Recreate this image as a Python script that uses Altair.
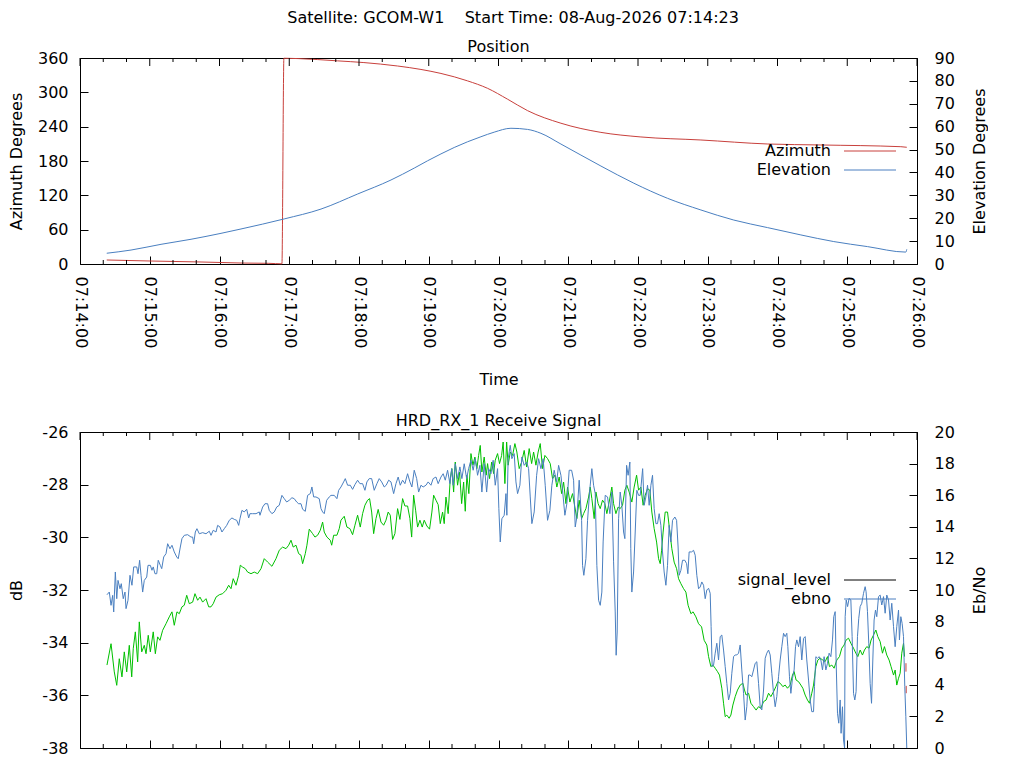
import numpy as np
import pandas as pd
import altair as alt

FONT = "DejaVu Sans"

# Position pass, seconds after 07:14:00
az_sec = [23.0, 61.1, 104.1, 138.5, 162.5, 173.7, 175.4, 187.5, 221.6, 244.2, 273.2, 293.3,
          310.5, 333.4, 350.6, 367.8, 385.0, 413.7, 448.1, 482.5, 534.1, 591.7, 637.3, 706.1, 711.2]
azimuth = [7.0, 5.2, 3.5, 1.7, 1.2, 0.3, 359.6, 359.0, 355, 352, 346, 340,
           333, 320, 307, 288, 268, 246, 230, 222, 216.7, 209.7, 208, 205, 204]

el_sec = [23.0, 43.9, 69.7, 95.5, 121.3, 138.5, 175.7, 207.3, 238.9, 267.5, 287.5, 299.0, 310.5,
          321.9, 333.4, 344.9, 356.3, 370.7, 385.0, 396.5, 413.7, 448.1, 476.4, 505.4, 534.1,
          562.4, 591.4, 620.1, 648.4, 677.4, 710.4, 711.2]
elevation = [4.7, 6.1, 8.6, 10.8, 13.4, 15.3, 19.7, 24.0, 30.6, 36.7, 41.9, 45.1, 48.1,
             50.9, 53.4, 55.6, 57.6, 59.3, 58.8, 57.1, 52.4, 42.8, 35.3, 28.7, 23.6,
             19.2, 15.9, 12.7, 9.8, 7.6, 5.2, 6.4]

# Receive signal
sig_sec = [23.2, 26.7, 29.5, 31.6, 33.8, 36.1, 38.1, 40.2, 42.4, 44.5, 45.8, 47.6, 49.6, 51.0, 53.1,
           55.3, 56.8, 58.7, 60.5, 63.0, 64.8, 66.8, 68.8, 71.1, 74.0, 76.8, 79.1, 81.1, 83.4, 85.4,
           87.7, 89.7, 91.8, 94.0, 96.9, 98.9, 101.2, 103.2, 105.5, 108.4, 110.7, 112.7, 114.6,
           117.0, 119.8, 122.7, 125.6, 127.9, 129.9, 131.8, 134.2, 136.5, 137.9, 139.9, 142.2,
           144.2, 147.1, 149.9, 152.8, 155.7, 158.5, 161.4, 165.1, 168.6, 171.4, 174.3, 177.2,
           179.5, 181.5, 183.4, 185.8, 188.1, 190.1, 191.5, 193.8, 195.2, 197.2, 200.1, 202.1,
           204.4, 206.7, 208.7, 210.1, 212.4, 215.3, 216.5, 218.2, 221.0, 223.0, 224.5, 227.3,
           229.6, 232.2, 234.5, 236.5, 238.8, 241.1, 243.1, 245.1, 247.4, 249.1, 250.9, 252.6,
           254.6, 256.5, 258.9, 261.2, 263.2, 265.1, 266.9, 268.9, 270.9, 273.2, 275.2, 277.5,
           279.5, 281.8, 283.8, 285.3, 287.0, 288.7, 290.4, 292.4, 294.4, 296.1, 298.4, 300.7,
           302.7, 304.2, 306.2, 308.1, 309.9, 311.9, 313.3, 314.8, 316.7, 318.5, 319.9, 321.4,
           322.8, 324.8, 326.5, 328.3, 330.0, 331.4, 332.8, 334.5, 336.3, 338.0, 339.7, 341.4,
           342.9, 344.3, 345.7, 347.7, 349.4, 350.6, 352.3, 354.1, 355.8, 357.2, 359.2, 360.9,
           362.7, 364.0, 365.5, 367.0, 368.3, 370.1, 372.1, 374.1, 375.8, 377.8, 379.9, 382.1,
           384.2, 386.4, 388.5, 390.2, 392.2, 394.1, 395.9, 397.9, 399.9, 402.2, 404.5, 406.5,
           408.5, 410.2, 412.2, 414.3, 416.0, 418.0, 419.4, 421.4, 423.7, 425.7, 427.4, 429.4,
           431.5, 433.2, 435.2, 437.5, 438.9, 440.3, 442.3, 443.8, 445.7, 447.5, 449.5, 451.5,
           453.2, 455.2, 457.5, 459.0, 461.0, 462.9, 464.7, 466.7, 468.7, 470.4, 472.4, 474.7,
           476.7, 478.8, 480.5, 482.5, 484.4, 486.2, 488.2, 490.2, 491.9, 493.9, 496.0, 497.7,
           499.1, 500.3, 501.6, 503.4, 505.4, 507.4, 509.1, 511.1, 513.2, 514.9, 516.9, 519.2,
           521.2, 523.1, 525.5, 527.4, 529.8, 532.1, 534.7, 536.9, 539.2, 540.7, 542.7, 544.4,
           546.4, 548.4, 550.1, 552.1, 553.6, 555.0, 556.4, 558.4, 559.9, 561.6, 563.6, 565.6,
           567.9, 570.2, 571.6, 573.0, 575.1, 577.1, 579.4, 581.6, 583.7, 585.7, 588.0, 590.2,
           592.3, 594.3, 596.6, 598.6, 600.3, 602.3, 604.6, 606.6, 608.6, 610.9, 612.9, 614.3,
           616.0, 618.1, 620.1, 621.8, 623.8, 625.8, 627.5, 629.5, 631.0, 633.0, 634.7, 636.7,
           639.0, 641.0, 643.0, 644.7, 646.7, 648.7, 651.0, 653.3, 655.3, 657.3, 659.0, 661.1,
           663.1, 665.4, 667.4, 669.1, 671.1, 673.1, 674.8, 676.8, 678.8, 680.5, 682.6, 684.6,
           686.3, 688.3, 690.3, 692.0, 694.0, 696.0, 697.7, 699.8, 701.2, 702.6, 704.1, 705.5,
           706.9, 708.4, 709.3]
signal_level = [-34.85, -34.04, -35.11, -35.62, -34.61, -35.30, -34.35, -35.11, -34.10, -35.30, -34.23,
                -33.59, -34.73, -33.21, -34.35, -34.10, -34.42, -33.72, -34.35, -33.59, -34.42, -33.78,
                -33.91, -33.53, -33.28, -33.02, -32.83, -33.34, -32.83, -32.90, -32.64, -32.58, -32.20,
                -32.52, -32.46, -32.14, -32.39, -32.27, -32.46, -32.33, -32.64, -32.64, -32.52, -32.27,
                -32.18, -32.14, -32.01, -31.82, -31.95, -31.57, -31.82, -31.44, -31.06, -31.13, -31.19,
                -31.32, -31.38, -31.32, -31.38, -31.19, -30.81, -30.94, -31.10, -30.81, -30.49, -30.37,
                -30.43, -30.30, -30.11, -30.37, -30.30, -30.62, -30.68, -31.00, -30.62, -30.30, -29.69,
                -29.86, -29.99, -29.92, -29.73, -29.42, -29.80, -29.99, -30.11, -30.30, -29.92, -29.92,
                -29.67, -29.35, -29.20, -29.61, -29.67, -29.90, -29.54, -29.16, -29.61, -29.10, -28.78,
                -28.59, -28.53, -29.04, -29.86, -29.29, -28.94, -29.42, -29.54, -29.35, -29.04, -29.16,
                -30.08, -29.86, -28.91, -29.32, -28.53, -28.81, -28.81, -29.29, -29.99, -28.40, -28.97,
                -29.61, -29.35, -29.61, -29.35, -29.57, -29.69, -29.04, -28.40, -28.59, -28.76, -29.48,
                -29.04, -29.48, -28.47, -29.10, -27.77, -27.39, -28.28, -27.14, -28.02, -27.52, -28.72,
                -27.90, -29.01, -27.64, -28.34, -26.82, -27.26, -26.95, -27.39, -26.89, -26.51, -27.52,
                -26.95, -27.64, -27.20, -27.77, -27.14, -27.58, -27.07, -26.82, -27.20, -26.89, -26.38,
                -27.96, -26.38, -27.26, -26.76, -26.89, -26.44, -26.76, -27.39, -27.14, -26.70, -27.33,
                -26.63, -27.20, -26.76, -27.26, -26.76, -26.44, -27.39, -26.89, -27.01, -27.20, -27.77,
                -27.64, -28.09, -27.71, -28.34, -27.90, -28.72, -28.09, -28.66, -28.34, -28.85, -29.29,
                -28.59, -29.29, -29.10, -28.91, -28.47, -28.09, -28.53, -29.29, -28.28, -28.72, -28.91,
                -28.59, -28.72, -29.10, -28.66, -28.09, -28.72, -29.10, -28.85, -28.91, -28.78, -28.21,
                -28.02, -28.28, -28.66, -28.09, -27.64, -28.21, -28.09, -28.78, -28.40, -28.15, -28.21,
                -29.04, -29.67, -30.18, -30.81, -31.00, -30.49, -29.80, -29.04, -29.04, -29.80, -30.43,
                -30.94, -31.19, -31.57, -31.76, -31.95, -32.08, -32.58, -32.90, -32.83, -33.02, -33.28,
                -33.40, -33.91, -34.09, -34.53, -34.91, -34.85, -34.97, -35.10, -35.23, -35.73, -36.30,
                -36.81, -36.75, -36.87, -36.75, -36.37, -36.05, -35.80, -35.61, -35.54, -35.80, -35.99,
                -35.92, -36.30, -36.43, -36.56, -36.43, -36.49, -36.24, -36.18, -35.92, -36.05, -35.86,
                -35.67, -35.48, -35.54, -35.67, -35.61, -35.73, -35.61, -35.23, -35.10, -35.42, -35.48,
                -35.61, -35.73, -35.99, -36.18, -36.30, -35.92, -35.61, -34.91, -34.66, -34.59, -34.66,
                -34.72, -34.53, -34.91, -34.85, -34.97, -34.66, -34.53, -34.21, -34.09, -33.90, -33.83,
                -34.02, -34.21, -34.40, -34.53, -34.28, -34.47, -34.28, -34.15, -34.21, -33.90, -33.71,
                -33.52, -33.77, -33.96, -34.40, -34.15, -34.47, -34.66, -34.91, -35.23, -35.04, -35.61,
                -35.35, -35.16, -34.40, -34.02, -34.53]

ebno_sec = [23.2, 25.2, 26.7, 28.1, 29.0, 30.4, 31.6, 32.7, 34.4, 35.5, 37.2, 38.7, 39.6, 41.3, 43.0,
            44.7, 46.2, 48.8, 49.9, 51.3, 52.5, 53.9, 55.3, 57.4, 58.5, 60.5, 61.9, 63.0, 64.5, 66.0,
            67.3, 69.1, 70.3, 72.0, 74.0, 75.4, 77.4, 79.1, 81.1, 83.2, 84.5, 86.3, 87.7, 89.7, 92.6,
            95.5, 96.9, 97.8, 99.2, 100.6, 102.6, 105.5, 108.4, 111.2, 112.7, 114.6, 117.0, 118.4,
            120.4, 122.1, 124.1, 126.2, 128.4, 130.7, 132.7, 134.8, 136.5, 137.6, 139.3, 141.3,
            143.4, 145.1, 146.2, 148.5, 151.4, 154.2, 154.8, 157.1, 159.1, 161.4, 162.8, 165.1,
            167.1, 169.2, 171.4, 173.7, 175.7, 177.8, 180.0, 182.3, 184.3, 186.4, 188.1, 190.1,
            191.5, 193.8, 195.8, 198.1, 199.5, 201.0, 203.0, 205.8, 207.3, 208.7, 210.1, 212.2,
            214.4, 215.9, 218.7, 221.0, 222.5, 224.5, 226.8, 228.2, 230.2, 232.5, 234.5, 236.5,
            238.8, 240.8, 243.1, 245.1, 246.8, 248.8, 250.9, 253.1, 255.4, 257.4, 259.5, 261.7,
            263.4, 265.5, 267.5, 269.8, 271.8, 273.7, 275.5, 277.5, 279.5, 281.8, 283.8, 285.5,
            287.5, 289.6, 291.3, 293.3, 295.2, 297.6, 299.5, 301.9, 303.8, 306.2, 308.1, 310.5,
            312.4, 314.2, 316.2, 318.2, 319.7, 321.0, 322.8, 324.8, 326.8, 328.5, 330.5, 332.6,
            334.3, 336.3, 338.2, 340.0, 342.0, 344.0, 345.7, 347.7, 349.8, 351.5, 353.5, 355.4,
            357.2, 359.2, 360.3, 361.5, 362.9, 364.9, 366.4, 367.2, 368.3, 370.1, 371.5, 373.5,
            375.0, 376.4, 378.4, 380.1, 382.1, 384.2, 385.9, 387.3, 388.7, 390.7, 392.8, 394.5,
            396.5, 398.4, 400.2, 402.2, 404.2, 405.9, 407.9, 410.0, 411.7, 413.7, 415.1, 417.1,
            418.8, 420.8, 422.9, 424.6, 426.0, 427.4, 429.4, 431.5, 432.3, 433.4, 435.2, 436.6,
            438.6, 440.3, 441.8, 443.2, 444.6, 446.1, 447.5, 448.9, 450.0, 451.8, 453.8, 455.8,
            457.5, 459.0, 460.4, 461.2, 462.1, 463.3, 464.7, 466.1, 467.6, 468.7, 470.2, 471.5,
            473.0, 473.8, 474.7, 476.2, 477.6, 479.0, 480.5, 481.9, 484.0, 485.3, 486.8, 488.2,
            489.6, 491.1, 492.5, 493.9, 495.4, 496.8, 498.2, 499.7, 501.1, 502.5, 504.0, 505.4,
            506.8, 508.3, 509.7, 511.7, 513.2, 514.5, 515.4, 516.9, 518.3, 520.3, 521.8, 522.9,
            524.0, 526.1, 527.8, 529.2, 530.6, 532.1, 533.5, 534.9, 536.4, 537.8, 539.2, 540.7,
            542.1, 542.9, 543.8, 545.0, 546.4, 547.8, 549.3, 550.7, 552.1, 553.6, 555.0, 556.4,
            557.9, 559.3, 560.7, 562.2, 563.6, 565.0, 566.5, 567.9, 569.3, 570.8, 572.2, 573.6,
            575.1, 576.5, 577.9, 579.4, 580.8, 582.2, 583.7, 585.1, 586.5, 588.0, 589.4, 590.8,
            592.3, 593.7, 595.1, 596.6, 598.0, 599.4, 600.9, 602.3, 603.7, 605.2, 606.6, 608.0,
            608.9, 610.3, 611.5, 612.9, 614.3, 615.5, 616.6, 618.1, 619.5, 620.9, 622.4, 623.8,
            625.2, 626.7, 628.1, 629.5, 631.0, 631.8, 633.0, 634.4, 635.9, 637.3, 638.7, 640.1,
            641.6, 643.0, 644.4, 645.9, 647.3, 648.4, 649.6, 650.4, 651.6, 652.7, 653.9, 654.7,
            655.9, 656.8, 657.7, 658.2, 659.1, 660.3, 661.6, 663.1, 664.2, 665.4, 666.5, 667.6,
            668.8, 669.9, 671.1, 672.5, 674.0, 675.4, 676.2, 677.4, 678.5, 679.7, 680.9, 682.0,
            683.1, 684.3, 685.4, 686.9, 688.3, 689.7, 691.2, 692.6, 694.0, 695.5, 696.9, 698.3,
            699.8, 701.2, 702.6, 704.1, 704.9, 706.1, 707.2, 708.4, 709.5, 710.4, 711.2]
ebno = [9.70, 9.87, 9.03, 9.66, 8.61, 11.14, 9.45, 10.61, 10.08, 10.40, 9.45, 9.87, 8.82, 9.35, 10.93,
        10.30, 11.46, 11.46, 11.03, 11.88, 10.93, 9.87, 10.61, 10.82, 11.56, 11.56, 11.25, 11.46, 11.03,
        11.03, 11.88, 11.56, 11.35, 12.09, 12.30, 12.93, 12.61, 12.83, 12.41, 12.09, 11.98, 12.72, 13.25,
        13.46, 13.50, 13.35, 13.35, 12.93, 13.67, 13.88, 13.56, 13.63, 13.56, 13.72, 13.46, 13.78, 13.67,
        14.09, 13.99, 13.67, 13.88, 14.09, 14.41, 14.56, 14.47, 14.41, 14.09, 14.51, 15.04, 14.94, 15.11,
        14.56, 14.83, 14.83, 14.83, 14.94, 14.73, 15.25, 15.46, 15.46, 15.04, 14.83, 14.94, 15.25, 15.36,
        15.99, 15.78, 15.57, 15.68, 15.84, 15.78, 15.57, 15.46, 15.46, 15.11, 14.98, 15.99, 16.10, 16.52,
        15.89, 15.89, 15.78, 15.15, 14.94, 14.83, 15.68, 15.89, 15.99, 15.99, 15.78, 16.31, 16.52, 16.84,
        17.05, 16.63, 16.63, 16.37, 16.67, 16.95, 16.73, 16.73, 16.31, 16.84, 17.05, 17.05, 16.31, 16.73,
        17.05, 16.84, 16.52, 16.63, 16.95, 16.84, 16.10, 16.73, 17.15, 16.63, 16.95, 16.73, 17.36, 16.84,
        16.52, 17.58, 17.05, 16.20, 16.63, 16.52, 16.63, 16.84, 16.63, 17.05, 17.15, 16.73, 17.15, 17.36,
        16.95, 17.58, 16.73, 17.68, 16.63, 17.99, 17.05, 17.79, 17.05, 17.99, 17.05, 17.68, 18.21, 17.58,
        18.31, 17.26, 17.89, 16.20, 17.99, 16.20, 17.68, 17.36, 18.21, 16.63, 17.68, 15.15, 13.04, 14.51,
        14.73, 16.10, 14.73, 18.31, 19.16, 18.31, 18.63, 16.84, 16.10, 16.63, 18.42, 17.89, 18.10, 17.68,
        15.89, 14.20, 14.94, 17.26, 18.31, 17.68, 18.31, 16.63, 14.41, 15.04, 16.63, 17.58, 16.84, 17.89,
        17.26, 16.31, 14.73, 15.46, 17.58, 17.58, 16.95, 13.99, 14.62, 16.95, 14.41, 11.56, 10.93, 11.98,
        14.41, 16.41, 17.68, 16.63, 16.10, 11.56, 9.35, 9.03, 9.87, 13.04, 15.99, 15.89, 14.83, 16.20,
        11.78, 8.61, 5.87, 7.34, 14.51, 16.20, 15.36, 13.67, 13.25, 17.89, 17.26, 18.10, 12.61, 9.87,
        11.14, 13.67, 16.31, 15.99, 15.99, 17.68, 15.36, 15.89, 16.63, 15.36, 16.63, 17.26, 15.15, 14.20,
        14.20, 14.83, 14.09, 12.41, 11.14, 10.30, 11.56, 14.09, 13.04, 14.41, 14.62, 14.41, 12.72, 10.93,
        11.25, 11.88, 11.88, 11.67, 11.03, 12.41, 12.41, 12.51, 12.20, 10.93, 10.08, 10.19, 10.51, 10.30,
        9.45, 10.00, 10.11, 9.79, 7.68, 5.15, 5.25, 6.00, 6.63, 5.57, 7.05, 7.15, 6.20, 5.15, 4.09, 3.04,
        3.46, 4.73, 5.78, 5.89, 5.89, 6.00, 6.52, 4.94, 3.46, 1.77, 2.61, 4.62, 4.62, 4.51, 4.94, 5.36,
        5.46, 4.09, 2.61, 2.41, 3.67, 5.68, 6.00, 6.20, 5.89, 4.73, 3.46, 2.61, 3.25, 4.51, 5.57, 6.41,
        7.26, 7.05, 7.26, 6.41, 4.51, 3.46, 4.41, 4.94, 6.41, 6.84, 6.41, 7.05, 5.57, 6.94, 7.05, 5.57,
        4.30, 3.04, 2.30, 2.30, 3.88, 5.78, 5.68, 5.78, 5.57, 4.94, 5.78, 4.94, 5.36, 6.00, 5.78, 6.84,
        8.31, 8.63, 5.57, 2.20, 1.57, 3.04, 0.93, 2.61, 0.51, 0.00, 8.31, 9.37, 8.95, 9.47, 9.37, 7.05,
        3.46, 3.04, 3.57, 7.05, 8.21, 8.95, 9.16, 9.79, 10.21, 9.89, 8.63, 6.63, 4.09, 2.83, 5.57, 8.10,
        8.73, 8.31, 9.58, 9.68, 9.05, 9.58, 8.53, 9.68, 9.37, 8.10, 9.16, 7.68, 6.41, 7.68, 8.73, 6.84,
        8.31, 7.89, 7.05, 3.88, 1.98, 0.00]

# two short red marks at the end of the pass
stub_sec = [710.5, 710.5, 710.7, 710.7]
stub_db = [-34.78, -35.10, -35.64, -35.92]
stub_seg = [1, 1, 2, 2]

pos_names = ["Azimuth", "Elevation"]
sig_names = ["signal_level", "ebno"]
az_ticks = [0, 60, 120, 180, 240, 300, 360]
el_ticks = [0, 10, 20, 30, 40, 50, 60, 70, 80, 90]
db_ticks = [-38, -36, -34, -32, -30, -28, -26]
ebno_ticks = [0, 2, 4, 6, 8, 10, 12, 14, 16, 18, 20]
major_ticks = list(range(0, 721, 60))
minor_ticks = [t for t in range(0, 721, 20) if t % 60]

RED = "#c8403c"
BLUE = "#4a7fc0"
GREEN = "#00c000"
W = 837
H_TOP = 206
H_BOT = 316

sec_scale = alt.Scale(domain=[0, 720], nice=False, zero=False)
label_expr = "timeFormat(datetime(2026, 7, 8, 7, 14, datum.value), '%H:%M:%S')"
major_df = pd.DataFrame({"sec": major_ticks})
minor_df = pd.DataFrame({"sec": minor_ticks})

# the same axis object is used for every x field of a panel, so the layers merge cleanly
top_time_axis = alt.Axis(orient="bottom", values=major_ticks, offset=-8, tickSize=8, domain=False,
                         grid=False, labelAngle=90, labelAlign="left", labelBaseline="middle",
                         labelPadding=12, labelExpr=label_expr, labelOverlap=False,
                         title="Time", titlePadding=24)
bot_time_axis = alt.Axis(orient="bottom", values=major_ticks, offset=-8, tickSize=8, domain=False,
                         grid=False, labels=False, title=None)


def y_axis(orient, values, title, pad):
    if orient == "left":
        return alt.Axis(orient="left", values=values, offset=-8, tickSize=8, domain=False, grid=False,
                        labelPadding=12, labelExpr="'' + datum.value", title=title, titlePadding=pad)
    return alt.Axis(orient="right", values=values, offset=-8, tickSize=8, domain=False, grid=False,
                    labelPadding=17, labelAlign="left", title=title, titlePadding=pad,
                    titleAngle=270, titleBaseline="top")


def tick_marks(height, axis):
    # minor ticks along the bottom, major and minor ticks mirrored along the top
    xs = alt.X("sec:Q", scale=sec_scale, axis=axis)
    return [
        alt.Chart(minor_df).mark_rule(color="black").encode(x=xs, y=alt.value(height - 4), y2=alt.value(height)),
        alt.Chart(major_df).mark_rule(color="black").encode(x=xs, y=alt.value(0), y2=alt.value(8)),
        alt.Chart(minor_df).mark_rule(color="black").encode(x=xs, y=alt.value(0), y2=alt.value(4)),
    ]


def legend_entry(name, color, ypos):
    d = pd.DataFrame({"name": [name]})
    txt = alt.Chart(d).mark_text(align="right", baseline="middle", font=FONT, fontSize=16,
                                 color="black").encode(text="name:N", x=alt.value(751), y=alt.value(ypos))
    rule = alt.Chart(d).mark_rule(color=color, strokeWidth=1).encode(
        x=alt.value(764), x2=alt.value(816), y=alt.value(ypos))
    return [txt, rule]


# ---- Position panel ----
az_df = pd.DataFrame({"sec": az_sec, "val": azimuth})
el_df = pd.DataFrame({"sec": el_sec, "val": elevation})

az_line = alt.Chart(az_df).mark_line(color=RED, strokeWidth=1, interpolate="monotone").encode(
    x=alt.X("sec:Q", scale=sec_scale, axis=top_time_axis),
    y=alt.Y("val:Q", scale=alt.Scale(domain=[0, 360], nice=False),
            axis=y_axis("left", az_ticks, "Azimuth Degrees", 12.5)))
el_line = alt.Chart(el_df).mark_line(color=BLUE, strokeWidth=1, interpolate="monotone").encode(
    x=alt.X("sec:Q", scale=sec_scale, axis=top_time_axis),
    y=alt.Y("val:Q", scale=alt.Scale(domain=[0, 90], nice=False),
            axis=y_axis("right", el_ticks, "Elevation Degrees", 17)))

top_left = alt.layer(az_line, *tick_marks(H_TOP, top_time_axis),
                     *legend_entry(pos_names[0], RED, 93), *legend_entry(pos_names[1], BLUE, 112))
top = alt.layer(top_left, el_line).resolve_scale(y="independent").properties(
    width=W, height=H_TOP,
    title=alt.TitleParams("Position", font=FONT, fontSize=16, fontWeight="normal", offset=-5))

# ---- Receive signal panel ----
sig_df = pd.DataFrame({"sec": sig_sec, "val": signal_level})
eb_df = pd.DataFrame({"sec": ebno_sec, "val": ebno})
stub_df = pd.DataFrame({"sec": stub_sec, "val": stub_db, "seg": stub_seg})

sig_line = alt.Chart(sig_df).mark_line(color=GREEN, strokeWidth=1).encode(
    x=alt.X("sec:Q", scale=sec_scale, axis=bot_time_axis),
    y=alt.Y("val:Q", scale=alt.Scale(domain=[-38, -26], nice=False),
            axis=y_axis("left", db_ticks, "dB", 17)))
stub_line = alt.Chart(stub_df).mark_line(color=RED, strokeWidth=1).encode(
    x=alt.X("sec:Q", scale=sec_scale, axis=bot_time_axis),
    y=alt.Y("val:Q"),
    detail="seg:N")
eb_line = alt.Chart(eb_df).mark_line(color=BLUE, strokeWidth=1, clip=True).encode(
    x=alt.X("sec:Q", scale=sec_scale, axis=bot_time_axis),
    y=alt.Y("val:Q", scale=alt.Scale(domain=[0, 20], nice=False),
            axis=y_axis("right", ebno_ticks, "Eb/No", 17)))

bot_left = alt.layer(sig_line, stub_line, *tick_marks(H_BOT, bot_time_axis),
                     *legend_entry(sig_names[0], "black", 148), *legend_entry(sig_names[1], BLUE, 167))
bottom = alt.layer(bot_left, eb_line).resolve_scale(y="independent").properties(
    width=W, height=H_BOT,
    title=alt.TitleParams("HRD_RX_1 Receive Signal", font=FONT, fontSize=16, fontWeight="normal", offset=-5))

main_title = "Satellite: GCOM-W1\u00a0\u00a0\u00a0\u00a0Start Time: 08-Aug-2026 07:14:23"

chart = alt.vconcat(top, bottom, spacing=23).properties(
    title=alt.TitleParams(main_title, font=FONT, fontSize=16, fontWeight="normal", anchor="middle",
                          dx=15, offset=13),
    padding={"left": 0, "top": 1, "right": 0, "bottom": 0},
    background="white",
).configure_view(stroke="black", strokeWidth=1).configure_axis(
    labelFont=FONT, labelFontSize=16, labelColor="black", titleFont=FONT, titleFontSize=16,
    titleFontWeight="normal", titleColor="black", tickColor="black", tickWidth=1
)

chart.save("out.html", embed_options={"renderer": "svg", "actions": False})
